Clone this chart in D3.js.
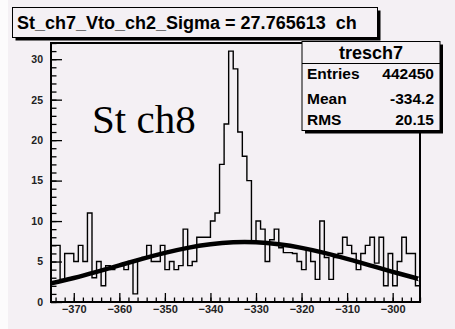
<!DOCTYPE html>
<html>
<head>
<meta charset="utf-8">
<script src="https://cdn.jsdelivr.net/npm/d3@7"></script>
<style>
  body { margin: 0; background: #fcfbfc; }
  svg { display: block; }
  .tick text { font-family: "Liberation Sans", Arial, sans-serif; font-weight: bold; fill: #222; }
  .box-text { font-family: "Liberation Sans", Arial, sans-serif; font-weight: bold; fill: #000; white-space: pre; }
</style>
</head>
<body>
<div id="chart"></div>
<script>
// histogram: 81 bins of width 1 starting at -375
const binStart = -375
const binWidth = 1
const binCounts = [
  7, 7, 2.8, 6, 6, 5, 7, 5, 11, 3,
  5, 2, 4.5, 4, 4.5, 4.5, 4, 5, 1, 5.3,
  5.5, 7, 5, 5, 7, 4, 5, 4, 4.5, 9,
  4.5, 5, 8, 8, 8, 10, 11, 17, 22, 31,
  28.8, 21, 18, 15, 7.3, 10, 9, 5, 7.7, 9,
  6.7, 6.1, 6.1, 6, 5, 4, 6.5, 5, 2.8, 10,
  5.5, 2.8, 5.5, 6, 8, 7, 6, 4, 6, 7,
  8, 4.8, 8, 2, 6, 2, 5, 8, 6, 6,
  2
]

// fitted curve
const fitX = [-375, -370, -365, -360, -355, -350, -345, -340, -335, -330, -325, -320, -315, -310, -305, -300, -295, -294]
const fitY = [2.30, 2.97, 3.73, 4.53, 5.33, 6.07, 6.69, 7.13, 7.37, 7.37, 7.13, 6.69, 6.07, 5.33, 4.53, 3.73, 2.97, 2.83]

const xMajorTicks = [-370, -360, -350, -340, -330, -320, -310, -300]
const yMajorTicks = [0, 5, 10, 15, 20, 25, 30]

const titleText = "St_ch7_Vto_ch2_Sigma = 27.765613  ch"
const statsName = "tresch7"
const statsLabels = ["Entries", "Mean", "RMS"]
const statsValues = ["442450", "-334.2", "20.15"]
const noteText = "St ch8"

const padColor = "#f4f0f4"
const dims = {
  width: 455,
  height: 329,
  left: 51,
  right: 420,
  top: 43,
  bottom: 302
}

const svg = d3.select("#chart").append("svg")
  .attr("width", dims.width)
  .attr("height", dims.height)

svg.append("rect")
  .attr("x", 8).attr("y", 0)
  .attr("width", dims.width - 8).attr("height", dims.height)
  .attr("fill", padColor)

const xDomain = [binStart, binStart + binCounts.length * binWidth]
const xScale = d3.scaleLinear().domain(xDomain).range([dims.left, dims.right])
const yScale = d3.scaleLinear().domain([0, 32]).range([dims.bottom, dims.top])

svg.append("clipPath").attr("id", "plot-clip")
  .append("rect")
  .attr("x", dims.left).attr("y", dims.top)
  .attr("width", dims.right - dims.left).attr("height", dims.bottom - dims.top)

const plot = svg.append("g").attr("clip-path", "url(#plot-clip)")

// histogram outline as steps
const pts = [[xScale(binStart), yScale(0)]]
binCounts.forEach((v, i) => {
  const x0 = xScale(binStart + i * binWidth)
  const x1 = xScale(binStart + (i + 1) * binWidth)
  pts.push([x0, yScale(v)], [x1, yScale(v)])
})
pts.push([xScale(xDomain[1]), yScale(0)])

plot.append("path")
  .attr("d", d3.line()(pts))
  .attr("fill", "none")
  .attr("stroke", "#000")
  .attr("stroke-width", 1.4)

const fitLine = d3.line()
  .x(d => xScale(d[0]))
  .y(d => yScale(d[1]))
  .curve(d3.curveNatural)

plot.append("path")
  .attr("d", fitLine(fitX.map((x, i) => [x, fitY[i]])))
  .attr("fill", "none")
  .attr("stroke", "#000")
  .attr("stroke-width", 4.5)

// axes, ticks point inwards like ROOT
const xMinor = d3.range(-374, -293, 2)
const yMinor = d3.range(0, 33, 1)

svg.append("g")
  .attr("transform", `translate(0,${dims.bottom})`)
  .call(d3.axisBottom(xScale).tickValues(xMinor).tickSize(-4.5).tickFormat(""))
  .call(g => g.select(".domain").remove())

svg.append("g")
  .attr("transform", `translate(0,${dims.bottom})`)
  .call(d3.axisBottom(xScale).tickValues(xMajorTicks).tickSize(-9).tickPadding(3))
  .call(g => g.select(".domain").remove())
  .call(g => g.selectAll("text").style("font-size", "11px").attr("dy", "0.71em").attr("y", 3))

svg.append("g")
  .attr("transform", `translate(${dims.left},0)`)
  .call(d3.axisLeft(yScale).tickValues(yMinor).tickSize(-5.5).tickFormat(""))
  .call(g => g.select(".domain").remove())

svg.append("g")
  .attr("transform", `translate(${dims.left},0)`)
  .call(d3.axisLeft(yScale).tickValues(yMajorTicks).tickSize(-11).tickPadding(8))
  .call(g => g.select(".domain").remove())
  .call(g => g.selectAll("text").style("font-size", "10.5px"))

svg.selectAll(".tick line").attr("stroke", "#000").attr("stroke-width", 1.3)

// frame
svg.append("rect")
  .attr("x", dims.left).attr("y", dims.top)
  .attr("width", dims.right - dims.left).attr("height", dims.bottom - dims.top)
  .attr("fill", "none")
  .attr("stroke", "#000")
  .attr("stroke-width", 2)

// boxes with shadow
function shadowBox(x, y, w, h) {
  svg.append("rect").attr("x", x + 3).attr("y", y + 3).attr("width", w).attr("height", h).attr("fill", "#000")
  svg.append("rect").attr("x", x).attr("y", y).attr("width", w).attr("height", h)
    .attr("fill", padColor).attr("stroke", "#000").attr("stroke-width", 1)
}

shadowBox(12.5, 7.5, 365, 30)
svg.append("text").attr("class", "box-text")
  .attr("x", 17).attr("y", 28.5)
  .style("font-size", "18px")
  .text(titleText)

shadowBox(302, 41.5, 138, 89)
svg.append("line")
  .attr("x1", 302).attr("x2", 440).attr("y1", 63.5).attr("y2", 63.5)
  .attr("stroke", "#000")
svg.append("text").attr("class", "box-text")
  .attr("x", 371).attr("y", 58.5)
  .attr("text-anchor", "middle")
  .style("font-size", "18px")
  .text(statsName)

const rowY = [79, 104, 125]
statsLabels.forEach((lab, i) => {
  svg.append("text").attr("class", "box-text")
    .attr("x", 307).attr("y", rowY[i])
    .style("font-size", "15.5px")
    .text(lab)
  svg.append("text").attr("class", "box-text")
    .attr("x", 434).attr("y", rowY[i])
    .attr("text-anchor", "end")
    .style("font-size", "15.5px")
    .text(statsValues[i])
})

svg.append("text")
  .attr("x", 92).attr("y", 133)
  .style("font-family", "'Liberation Serif', 'Times New Roman', serif")
  .style("font-size", "41px")
  .attr("fill", "#000")
  .text(noteText)
</script>
</body>
</html>
